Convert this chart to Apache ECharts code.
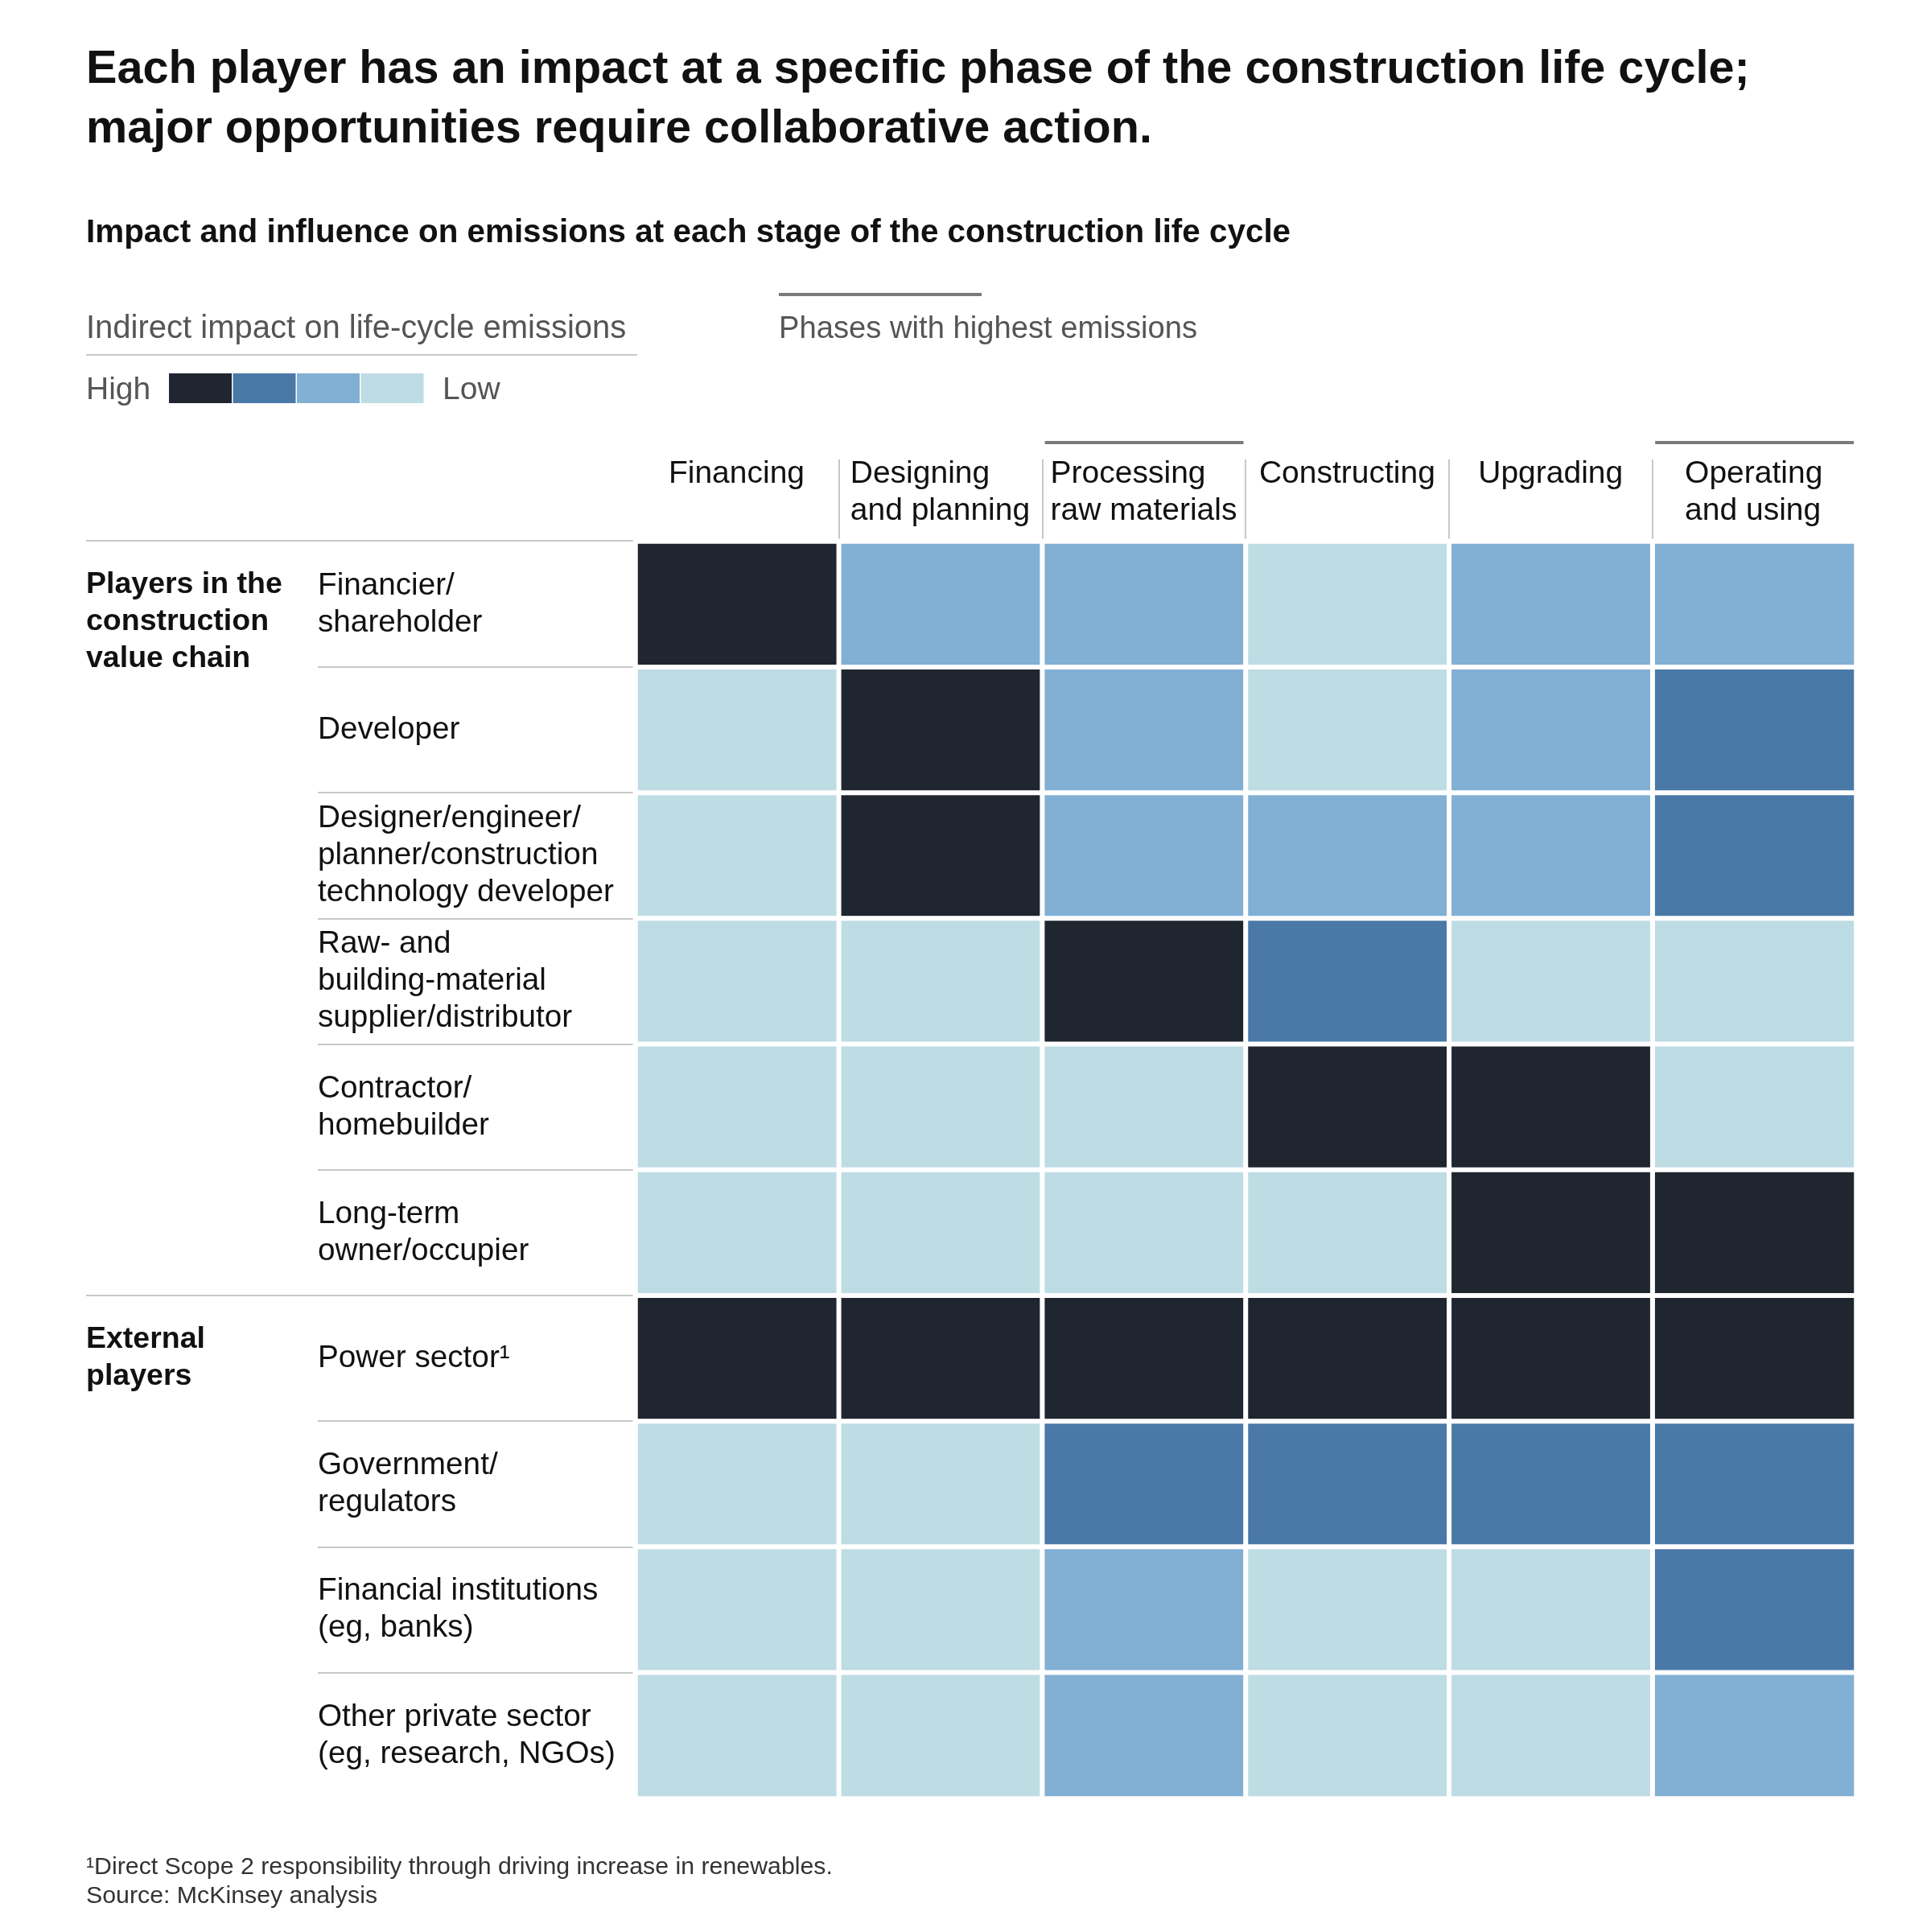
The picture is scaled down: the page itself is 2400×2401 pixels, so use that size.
<!DOCTYPE html>
<html>
<head>
<meta charset="utf-8">
<script src="https://cdn.jsdelivr.net/npm/echarts@6/dist/echarts.min.js"></script>
<style>
html,body{margin:0;padding:0;background:#ffffff;}
#chart{width:2400px;height:2401px;}
</style>
</head>
<body>
<div id="chart"></div>
<script>
// ---------- DATA ----------
const titleText = 'Each player has an impact at a specific phase of the construction life cycle;\nmajor opportunities require collaborative action.';
const subtitleText = 'Impact and influence on emissions at each stage of the construction life cycle';
const footnoteLines = ['\u00b9Direct Scope 2 responsibility through driving increase in renewables.', 'Source: McKinsey analysis'];

const phases = ['Financing', 'Designing\nand planning', 'Processing\nraw materials', 'Constructing', 'Upgrading', 'Operating\nand using'];
const highPhases = ['Processing\nraw materials', 'Operating\nand using'];

const players = [
  'Financier/\nshareholder',
  'Developer',
  'Designer/engineer/\nplanner/construction\ntechnology developer',
  'Raw- and\nbuilding-material\nsupplier/distributor',
  'Contractor/\nhomebuilder',
  'Long-term\nowner/occupier',
  'Power sector\u00b9',
  'Government/\nregulators',
  'Financial institutions\n(eg, banks)',
  'Other private sector\n(eg, research, NGOs)'
];
const groupNames = ['Players in the\nconstruction\nvalue chain', 'External\nplayers'];
const groupStarts = [0, 6];

// impact level per player (rows) and phase (columns): 3 = High ... 0 = Low
const impact = [
  [3, 1, 1, 0, 1, 1],
  [0, 3, 1, 0, 1, 2],
  [0, 3, 1, 1, 1, 2],
  [0, 0, 3, 2, 0, 0],
  [0, 0, 0, 3, 3, 0],
  [0, 0, 0, 0, 3, 3],
  [3, 3, 3, 3, 3, 3],
  [0, 0, 2, 2, 2, 2],
  [0, 0, 1, 0, 0, 2],
  [0, 0, 1, 0, 0, 1]
];
const levelColors = ['#BEDCE4', '#82AFD4', '#4A79A8', '#20262F']; // Low -> High
const legendEnds = ['High', 'Low'];
const legendTitle = 'Indirect impact on life-cycle emissions';
const phaseLegendTitle = 'Phases with highest emissions';

// ---------- CHART ----------
const FONT = '"Liberation Sans", Arial, Helvetica, sans-serif';
const chart = echarts.init(document.getElementById('chart'), null, {renderer: 'canvas'});

const heatData = [];
impact.forEach((row, r) => row.forEach((v, c) => heatData.push([c, r, v])));

// header rich styles: left-aligned block, centered in its column
const measureCtx = document.createElement('canvas').getContext('2d');
measureCtx.font = '39px ' + FONT;
const headerRich = {};
phases.forEach((p, i) => {
  const w = Math.max.apply(null, p.split('\n').map(s => measureCtx.measureText(s).width));
  headerRich['h' + i] = {width: Math.ceil(w) + 1, align: 'left', fontSize: 39, lineHeight: 46, fontFamily: FONT, color: '#111'};
});

const option = {
  animation: false,
  backgroundColor: '#ffffff',
  title: [
    {text: titleText, left: 107, top: 50, padding: 0,
     textStyle: {fontFamily: FONT, fontSize: 57.6, fontWeight: 'bold', lineHeight: 74, color: '#111'}},
    {text: subtitleText, left: 107, top: 266, padding: 0,
     textStyle: {fontFamily: FONT, fontSize: 40.4, fontWeight: 'bold', lineHeight: 48, color: '#111'}},
    {text: footnoteLines.join('\n'), left: 107, top: 2303, padding: 0,
     textStyle: {fontFamily: FONT, fontSize: 30.3, fontWeight: 'normal', lineHeight: 36, color: '#333'}}
  ],
  grid: {left: 790, right: 93, top: 673, bottom: 166, containLabel: false, outerBoundsMode: 'none'},
  xAxis: {
    type: 'category', data: phases, position: 'top',
    axisLine: {show: false}, axisTick: {show: false}, splitLine: {show: false},
    axisLabel: {
      interval: 0, margin: 107, verticalAlign: 'top', align: 'center',
      formatter: (val, idx) => val.split('\n').map(s => '{h' + idx + '|' + s + '}').join('\n'),
      rich: headerRich
    }
  },
  yAxis: {
    type: 'category', data: players, inverse: true,
    axisLine: {show: false}, axisTick: {show: false}, splitLine: {show: false},
    axisLabel: {interval: 0, align: 'left', margin: 395, fontFamily: FONT, fontSize: 38.7, lineHeight: 46, color: '#111'}
  },
  visualMap: {
    type: 'piecewise', show: false, dimension: 2,
    pieces: levelColors.map((c, i) => ({value: i, color: c}))
  },
  series: [{
    type: 'heatmap', data: heatData,
    itemStyle: {borderColor: '#ffffff', borderWidth: 6},
    emphasis: {disabled: true}, label: {show: false}
  }]
};
chart.setOption(option);

// ---------- DECORATION (positions from the axes) ----------
const xc = phases.map((p, i) => chart.convertToPixel({xAxisIndex: 0}, i));
const yc = players.map((p, i) => chart.convertToPixel({yAxisIndex: 0}, i));
const bandW = xc[1] - xc[0];
const bandH = yc[1] - yc[0];
const gridLeft = xc[0] - bandW / 2;
const gridTop = yc[0] - bandH / 2;

const g = [];
const lineStyle = {stroke: '#c8c8c8', lineWidth: 2};
// top rule
g.push({type: 'line', shape: {x1: 107, y1: gridTop - 1, x2: gridLeft + 3, y2: gridTop - 1}, style: lineStyle});
// row separators
for (let i = 0; i < players.length - 1; i++) {
  const y = Math.round(yc[i] + bandH / 2);
  const x1 = groupStarts.indexOf(i + 1) >= 0 ? 107 : 395;
  g.push({type: 'line', shape: {x1: x1, y1: y, x2: gridLeft + 3, y2: y}, style: lineStyle});
}
// header dividers
for (let i = 1; i < phases.length; i++) {
  const x = Math.round(xc[i] - bandW / 2);
  g.push({type: 'line', shape: {x1: x, y1: 571, x2: x, y2: gridTop - 1}, style: lineStyle});
}
// high emission phase bars
highPhases.forEach(p => {
  const i = phases.indexOf(p);
  g.push({type: 'rect', shape: {x: xc[i] - bandW / 2 + 3, y: 548, width: bandW - 6, height: 4}, style: {fill: '#7a7a7a'}});
});
// group labels
groupNames.forEach((name, k) => {
  const top = yc[groupStarts[k]] - bandH / 2 + 31;
  g.push({type: 'text', x: 107, y: top, style: {text: name, fontFamily: FONT, fontSize: 37.5, fontWeight: 'bold', lineHeight: 46, fill: '#111', align: 'left', verticalAlign: 'top'}});
});
// legend: impact
g.push({type: 'text', x: 107, y: 409, style: {text: legendTitle, fontFamily: FONT, fontSize: 40, fill: '#555', align: 'left', verticalAlign: 'middle'}});
g.push({type: 'line', shape: {x1: 107, y1: 441, x2: 792, y2: 441}, style: lineStyle});
g.push({type: 'text', x: 107, y: 485, style: {text: legendEnds[0], fontFamily: FONT, fontSize: 39, fill: '#555', align: 'left', verticalAlign: 'middle'}});
levelColors.slice().reverse().forEach((c, i) => {
  g.push({type: 'rect', shape: {x: 210 + i * 79.5, y: 464, width: 78, height: 37}, style: {fill: c}});
});
g.push({type: 'text', x: 550, y: 485, style: {text: legendEnds[1], fontFamily: FONT, fontSize: 39, fill: '#555', align: 'left', verticalAlign: 'middle'}});
// legend: phases
g.push({type: 'rect', shape: {x: 968, y: 364, width: 252, height: 4}, style: {fill: '#7a7a7a'}});
g.push({type: 'text', x: 968, y: 409, style: {text: phaseLegendTitle, fontFamily: FONT, fontSize: 38.2, fill: '#555', align: 'left', verticalAlign: 'middle'}});

chart.setOption({graphic: {elements: g}});
</script>
</body>
</html>
